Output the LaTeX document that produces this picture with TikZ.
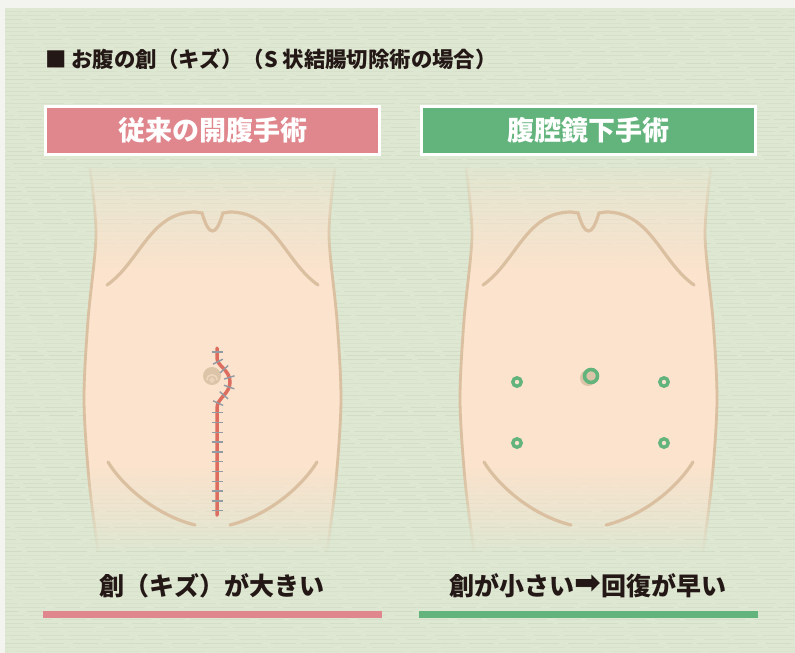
\documentclass[tikz,border=0pt]{standalone}
\usepackage{fontspec}
\newfontfamily\jpfont{Noto Sans CJK JP}
\newfontfamily\symfont{DejaVu Sans}
\usetikzlibrary{fadings,decorations.markings}
\definecolor{PaperWhite}{RGB}{243,244,240}
\definecolor{PanelGreen}{RGB}{222,231,210}
\definecolor{GrainGreen}{RGB}{196,209,184}
\definecolor{SkinPeach}{RGB}{251,227,205}
\definecolor{SkinLine}{RGB}{218,192,160}
\definecolor{NavelTan}{RGB}{220,196,168}
\definecolor{HeadPink}{RGB}{224,135,142}
\definecolor{HeadGreen}{RGB}{98,180,124}
\definecolor{CutRed}{RGB}{221,110,95}
\definecolor{StitchGray}{RGB}{146,154,164}
\definecolor{InkDark}{RGB}{35,24,21}

% skin fades out at chest and hips
\pgfdeclareverticalshading{torsoramp}{100bp}{color(0bp)=(black); color(25bp)=(black); color(36bp)=(white); color(62bp)=(white); color(75bp)=(black!88); color(100bp)=(black!88)}
\pgfdeclarefading{torsofade}{\pgfuseshading{torsoramp}}

\begin{document}
\begin{tikzpicture}[x=1pt,y=-1pt,
    side/.style={SkinLine, line width=2.8pt},
    bone/.style={SkinLine, line width=3.2pt, line cap=round},
    cut/.style={CutRed, line width=3.5pt, line cap=round},
    stitchmark/.style={StitchGray, line width=1.4pt, line cap=butt},
    port/.style={circle, draw=HeadGreen, line width=3.4pt, minimum size=8.4pt, inner sep=0pt},
    headbox/.style={draw=white, line width=3pt, minimum width=334pt, minimum height=48pt,
        text=white, font=\jpfont\bfseries\fontsize{27}{27}\selectfont},
    caption/.style={text=InkDark, font=\jpfont\bfseries\fontsize{25}{25}\selectfont},
    bar/.style={line width=7pt}]
    %% Background paper
    \fill[PaperWhite] (0,0) rectangle (795,653);
    \fill[PanelGreen] (5,8) rectangle (795,653);
    \useasboundingbox (0,0) rectangle (795,653);
    \foreach \yy [evaluate=\yy as \op using 0.15+0.35*rnd,
                  evaluate=\yy as \ph using {mod(\yy*7,90)}] in {11,15,...,651}
        \draw[GrainGreen, line width=0.7pt, opacity=\op,
              dash pattern=on 60pt off 9pt on 25pt off 5pt, dash phase=\ph pt]
            (5,\yy) -- (795,\yy);

    %% Two torsos
    \foreach \dx in {0,376}{
        \begin{scope}[xshift=\dx pt]
            \fill[SkinPeach, path fading=torsofade]
                plot[smooth] coordinates {(90,168) (96,235) (88,320) (84,400) (89,480) (98,552)}
                -- plot[smooth] coordinates {(327,552) (336,480) (341,400) (337,320) (329,235) (335,168)}
                -- cycle;
            \draw[side, path fading=torsofade]
                plot[smooth] coordinates {(90,168) (96,235) (88,320) (84,400) (89,480) (98,552)};
            \draw[side, path fading=torsofade]
                plot[smooth] coordinates {(335,168) (329,235) (337,320) (341,400) (336,480) (327,552)};
            % ribs
            \draw[bone] (107,285) .. controls (140,262) and (150,212) .. (195,212) -- (202,213)
                .. controls (206,226) and (209,231) .. (212.5,231)
                .. controls (216,231) and (219,226) .. (223,213) -- (230,212)
                .. controls (275,212) and (285,262) .. (318,285);
            % pelvis
            \draw[bone] (108,462) .. controls (122,485) and (155,515) .. (195,525);
            \draw[bone] (317,462) .. controls (303,485) and (270,515) .. (230,525);
        \end{scope}
    }

    %% Open surgery: navel and long stitched incision
    \fill[NavelTan] (212,376) circle (9);
    \draw[SkinPeach!60!NavelTan, line width=1.6pt] (207,380) .. controls (207,373) and (217,373) .. (217,380);
    \draw[SkinPeach!60!NavelTan, line width=1.4pt] (212,380) circle (1.8);
    \draw[cut, postaction={decorate, decoration={markings,
            mark=between positions 4pt and 172pt step 9.8pt with {\draw[stitchmark] (0,-5.5pt) -- (0,5.5pt);}}}]
        (217,348) -- (217,358) .. controls (217,366) and (230,370) .. (230,382)
        .. controls (230,394) and (217,398) .. (217,408) -- (217,515);

    %% Laparoscopy: port sites
    \fill[NavelTan] (588,378) circle (8);
    \node[port, minimum size=13pt, line width=3.6pt] (portnavel) at (591,376) {};
    \node[port] (portul) at (517,382) {};
    \node[port] (portur) at (664,382) {};
    \node[port] (portll) at (517,443) {};
    \node[port] (portlr) at (664,443) {};

    %% Headings
    \node[anchor=west, inner sep=0pt, text=InkDark, font=\jpfont\bfseries\fontsize{21.4}{21.4}\selectfont]
        (title) at (45,59) {■ お腹の創（キズ）（S 状結腸切除術の場合）};
    \node[headbox, fill=HeadPink] (openhead) at (212.5,130.5) {従来の開腹手術};
    \node[headbox, fill=HeadGreen] (lapahead) at (588,130.5) {腹腔鏡下手術};

    %% Captions
    \node[caption] (opencap) at (211.5,586) {創（キズ）が大きい};
    \node[caption] (lapacap) at (588,586)
        {創が小さい\raisebox{2pt}{\symfont\bfseries\fontsize{32}{25}\selectfont ➡}回復が早い};
    \draw[HeadPink, bar] (43,614.5) -- (382,614.5);
    \draw[HeadGreen, bar] (419,614.5) -- (758,614.5);
\end{tikzpicture}
\end{document}
